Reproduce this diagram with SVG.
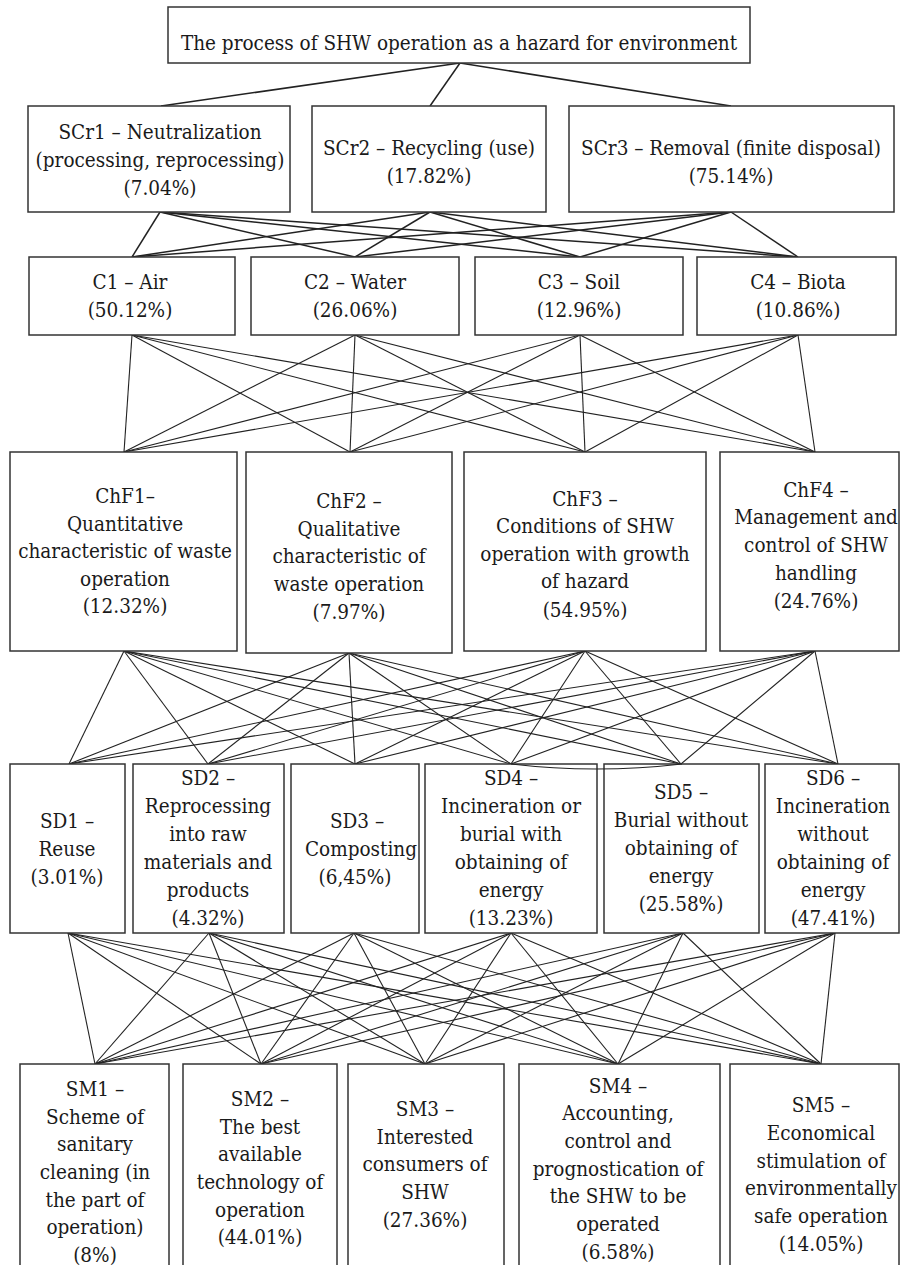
<svg xmlns="http://www.w3.org/2000/svg" width="901" height="1265" viewBox="0 0 901 1265">
<style>
.box{fill:#fff;stroke:#333;stroke-width:1.5}
.c1{stroke:#222;stroke-width:1.5;fill:none}
.c2{stroke:#222;stroke-width:1.1;fill:none}
</style>
<rect width="901" height="1265" fill="#fff"/>
<g id="connectors">
<g class="c1">
<line x1="460" y1="63" x2="161" y2="106"/>
<line x1="460" y1="63" x2="430" y2="106"/>
<line x1="460" y1="63" x2="731" y2="106"/>
</g>
<g class="c1">
<line x1="160" y1="212" x2="132" y2="257"/><line x1="160" y1="212" x2="355" y2="257"/><line x1="160" y1="212" x2="580" y2="257"/><line x1="160" y1="212" x2="798" y2="257"/>
<line x1="430" y1="212" x2="132" y2="257"/><line x1="430" y1="212" x2="355" y2="257"/><line x1="430" y1="212" x2="580" y2="257"/><line x1="430" y1="212" x2="798" y2="257"/>
<line x1="731" y1="212" x2="132" y2="257"/><line x1="731" y1="212" x2="355" y2="257"/><line x1="731" y1="212" x2="580" y2="257"/><line x1="731" y1="212" x2="798" y2="257"/>
</g>
<g class="c2">
<line x1="132" y1="335" x2="124" y2="452"/><line x1="132" y1="335" x2="350" y2="452"/><line x1="132" y1="335" x2="585" y2="452"/><line x1="132" y1="335" x2="815" y2="452"/>
<line x1="355" y1="335" x2="124" y2="452"/><line x1="355" y1="335" x2="350" y2="452"/><line x1="355" y1="335" x2="585" y2="452"/><line x1="355" y1="335" x2="815" y2="452"/>
<line x1="580" y1="335" x2="124" y2="452"/><line x1="580" y1="335" x2="350" y2="452"/><line x1="580" y1="335" x2="585" y2="452"/><line x1="580" y1="335" x2="815" y2="452"/>
<line x1="798" y1="335" x2="124" y2="452"/><line x1="798" y1="335" x2="350" y2="452"/><line x1="798" y1="335" x2="585" y2="452"/><line x1="798" y1="335" x2="815" y2="452"/>
</g>
<g class="c2">
<line x1="124" y1="651" x2="69" y2="764"/><line x1="124" y1="651" x2="208" y2="764"/><line x1="124" y1="651" x2="355" y2="764"/><line x1="124" y1="651" x2="511" y2="764"/><line x1="124" y1="651" x2="681" y2="764"/><line x1="124" y1="651" x2="838" y2="764"/>
<line x1="349" y1="653" x2="69" y2="764"/><line x1="349" y1="653" x2="208" y2="764"/><line x1="349" y1="653" x2="355" y2="764"/><line x1="349" y1="653" x2="511" y2="764"/><line x1="349" y1="653" x2="681" y2="764"/><line x1="349" y1="653" x2="838" y2="764"/>
<line x1="585" y1="651" x2="69" y2="764"/><line x1="585" y1="651" x2="208" y2="764"/><line x1="585" y1="651" x2="355" y2="764"/><line x1="585" y1="651" x2="511" y2="764"/><line x1="585" y1="651" x2="681" y2="764"/><line x1="585" y1="651" x2="838" y2="764"/>
<line x1="815" y1="651" x2="69" y2="764"/><line x1="815" y1="651" x2="208" y2="764"/><line x1="815" y1="651" x2="355" y2="764"/><line x1="815" y1="651" x2="511" y2="764"/><line x1="815" y1="651" x2="681" y2="764"/><line x1="815" y1="651" x2="838" y2="764"/>
</g>
<g class="c2">
<line x1="68" y1="933" x2="95" y2="1064"/><line x1="68" y1="933" x2="261" y2="1064"/><line x1="68" y1="933" x2="425" y2="1064"/><line x1="68" y1="933" x2="618" y2="1064"/><line x1="68" y1="933" x2="821" y2="1064"/>
<line x1="209" y1="933" x2="95" y2="1064"/><line x1="209" y1="933" x2="261" y2="1064"/><line x1="209" y1="933" x2="425" y2="1064"/><line x1="209" y1="933" x2="618" y2="1064"/><line x1="209" y1="933" x2="821" y2="1064"/>
<line x1="354" y1="933" x2="95" y2="1064"/><line x1="354" y1="933" x2="261" y2="1064"/><line x1="354" y1="933" x2="425" y2="1064"/><line x1="354" y1="933" x2="618" y2="1064"/><line x1="354" y1="933" x2="821" y2="1064"/>
<line x1="511" y1="933" x2="95" y2="1064"/><line x1="511" y1="933" x2="261" y2="1064"/><line x1="511" y1="933" x2="425" y2="1064"/><line x1="511" y1="933" x2="618" y2="1064"/><line x1="511" y1="933" x2="821" y2="1064"/>
<line x1="683" y1="933" x2="95" y2="1064"/><line x1="683" y1="933" x2="261" y2="1064"/><line x1="683" y1="933" x2="425" y2="1064"/><line x1="683" y1="933" x2="618" y2="1064"/><line x1="683" y1="933" x2="821" y2="1064"/>
<line x1="835" y1="933" x2="95" y2="1064"/><line x1="835" y1="933" x2="261" y2="1064"/><line x1="835" y1="933" x2="425" y2="1064"/><line x1="835" y1="933" x2="618" y2="1064"/><line x1="835" y1="933" x2="821" y2="1064"/>
</g>
</g>
<g font-family="'DejaVu Serif Condensed', 'DejaVu Serif', serif" font-stretch="condensed" font-size="20.5" fill="#1a1a1a" text-anchor="middle">
<g id="top"><rect class="box" x="168" y="7" width="582" height="56"/><text x="459" y="50">The process of SHW operation as a hazard for environment</text></g>
<g id="SCr1"><rect class="box" x="28" y="106" width="262" height="106"/><text x="160" y="139">SCr1 – Neutralization</text><text x="160" y="167">(processing, reprocessing)</text><text x="160" y="195">(7.04%)</text></g>
<g id="SCr2"><rect class="box" x="312" y="106" width="234" height="106"/><text x="429" y="155">SCr2 – Recycling (use)</text><text x="429" y="183">(17.82%)</text></g>
<g id="SCr3"><rect class="box" x="569" y="106" width="325" height="106"/><text x="731" y="155">SCr3 – Removal (finite disposal)</text><text x="731" y="183">(75.14%)</text></g>
<g id="C1"><rect class="box" x="29" y="257" width="206" height="78"/><text x="130" y="289">C1 – Air</text><text x="130" y="317">(50.12%)</text></g>
<g id="C2"><rect class="box" x="251" y="257" width="208" height="78"/><text x="355" y="289">C2 – Water</text><text x="355" y="317">(26.06%)</text></g>
<g id="C3"><rect class="box" x="475" y="257" width="208" height="78"/><text x="579" y="289">C3 – Soil</text><text x="579" y="317">(12.96%)</text></g>
<g id="C4"><rect class="box" x="697" y="257" width="199" height="78"/><text x="798" y="289">C4 – Biota</text><text x="798" y="317">(10.86%)</text></g>
<g id="ChF1"><rect class="box" x="10" y="452" width="227" height="199"/><text x="125" y="503">ChF1–</text><text x="125" y="531">Quantitative</text><text x="125" y="558">characteristic of waste</text><text x="125" y="586">operation</text><text x="125" y="613">(12.32%)</text></g>
<g id="ChF2"><rect class="box" x="246" y="452" width="206" height="201"/><text x="349" y="508">ChF2 –</text><text x="349" y="536">Qualitative</text><text x="349" y="563">characteristic of</text><text x="349" y="591">waste operation</text><text x="349" y="619">(7.97%)</text></g>
<g id="ChF3"><rect class="box" x="464" y="452" width="242" height="199"/><text x="585" y="506">ChF3 –</text><text x="585" y="533">Conditions of SHW</text><text x="585" y="561">operation with growth</text><text x="585" y="588">of hazard</text><text x="585" y="617">(54.95%)</text></g>
<g id="ChF4"><rect class="box" x="720" y="452" width="179" height="199"/><text x="816" y="497">ChF4 –</text><text x="816" y="524">Management and</text><text x="816" y="552">control of SHW</text><text x="816" y="580">handling</text><text x="816" y="608">(24.76%)</text></g>
<g id="SD1"><rect class="box" x="10" y="764" width="115" height="169"/><text x="67" y="828">SD1 –</text><text x="67" y="856">Reuse</text><text x="67" y="884">(3.01%)</text></g>
<g id="SD2"><rect class="box" x="133" y="764" width="151" height="169"/><text x="208" y="785">SD2 –</text><text x="208" y="813">Reprocessing</text><text x="208" y="841">into raw</text><text x="208" y="869">materials and</text><text x="208" y="897">products</text><text x="208" y="925">(4.32%)</text></g>
<g id="SD3"><rect class="box" x="291" y="764" width="128" height="169"/><text x="357" y="828">SD3 –</text><text x="361" y="856">Composting</text><text x="355" y="884">(6,45%)</text></g>
<g id="SD4"><rect class="box" x="425" y="764" width="172" height="169"/><text x="511" y="785">SD4 –</text><text x="511" y="813">Incineration or</text><text x="511" y="841">burial with</text><text x="511" y="869">obtaining of</text><text x="511" y="897">energy</text><text x="511" y="925">(13.23%)</text></g>
<g id="SD5"><rect class="box" x="604" y="764" width="155" height="169"/><text x="681" y="799">SD5 –</text><text x="681" y="827">Burial without</text><text x="681" y="855">obtaining of</text><text x="681" y="883">energy</text><text x="681" y="911">(25.58%)</text></g>
<g id="SD6"><rect class="box" x="765" y="764" width="134" height="169"/><text x="833" y="785">SD6 –</text><text x="833" y="813">Incineration</text><text x="833" y="841">without</text><text x="833" y="869">obtaining of</text><text x="833" y="897">energy</text><text x="833" y="925">(47.41%)</text></g>
<g id="SM1"><rect class="box" x="20" y="1064" width="149" height="215"/><text x="95" y="1096">SM1 –</text><text x="95" y="1124">Scheme of</text><text x="95" y="1151">sanitary</text><text x="95" y="1179">cleaning (in</text><text x="95" y="1207">the part of</text><text x="95" y="1234">operation)</text><text x="95" y="1262">(8%)</text></g>
<g id="SM2"><rect class="box" x="183" y="1064" width="154" height="215"/><text x="260" y="1106">SM2 –</text><text x="260" y="1134">The best</text><text x="260" y="1161">available</text><text x="260" y="1189">technology of</text><text x="260" y="1217">operation</text><text x="260" y="1244">(44.01%)</text></g>
<g id="SM3"><rect class="box" x="348" y="1064" width="156" height="215"/><text x="425" y="1116">SM3 –</text><text x="425" y="1144">Interested</text><text x="425" y="1171">consumers of</text><text x="425" y="1199">SHW</text><text x="425" y="1227">(27.36%)</text></g>
<g id="SM4"><rect class="box" x="519" y="1064" width="201" height="215"/><text x="618" y="1093">SM4 –</text><text x="618" y="1120">Accounting,</text><text x="618" y="1148">control and</text><text x="618" y="1176">prognostication of</text><text x="618" y="1203">the SHW to be</text><text x="618" y="1231">operated</text><text x="618" y="1259">(6.58%)</text></g>
<g id="SM5"><rect class="box" x="730" y="1064" width="169" height="215"/><text x="821" y="1112">SM5 –</text><text x="821" y="1140">Economical</text><text x="821" y="1168">stimulation of</text><text x="821" y="1195">environmentally</text><text x="821" y="1223">safe operation</text><text x="821" y="1251">(14.05%)</text></g>
</g>
<path class="c2" d="M511 764 Q596 774 682 764"/>
</svg>
